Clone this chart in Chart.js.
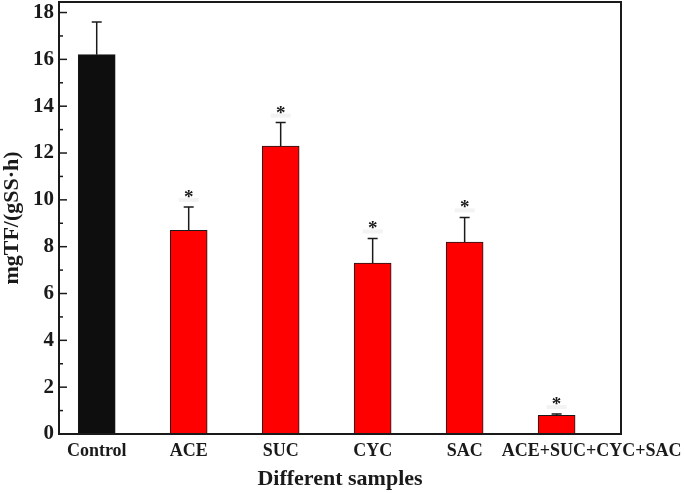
<!DOCTYPE html>
<html>
<head>
<meta charset="utf-8">
<script src="https://cdn.jsdelivr.net/npm/chart.js@4"></script>
<style>
    body { margin: 0; background: #fff; }
</style>
</head>
<body>
<canvas id="activityChart" width="685" height="493"></canvas>
<script>

    const categories = ["Control", "ACE", "SUC", "CYC", "SAC", "ACE+SUC+CYC+SAC"];
    const means = [16.2, 8.7, 12.3, 7.3, 8.2, 0.8];
    const errors = [1.4, 1.0, 1.0, 1.05, 1.05, 0.05];
    const significant = [false, true, true, true, true, true];
    const yTicks = [0, 2, 4, 6, 8, 10, 12, 14, 16, 18];

    const serif = "'Liberation Serif', 'Times New Roman', serif";
    const ink = "#1a1a1a";
    const lastLabelShift = 0.38;

    // frame, inward ticks, error bars and stars
    const decorations = {
        id: "decorations",
        afterDatasetsDraw(chart) {
            const ctx = chart.ctx;
            const xs = chart.scales.x;
            const ys = chart.scales.y;
            ctx.save();
            ctx.strokeStyle = ink;
            ctx.lineWidth = 1.5;
            means.forEach((m, i) => {
                const x = xs.getPixelForValue(i);
                const yTop = ys.getPixelForValue(m);
                const yErr = ys.getPixelForValue(m + errors[i]);
                ctx.beginPath();
                ctx.moveTo(x, yTop);
                ctx.lineTo(x, yErr);
                ctx.moveTo(x - 5, yErr);
                ctx.lineTo(x + 5, yErr);
                ctx.stroke();
                if (significant[i]) {
                    ctx.fillStyle = "#f3f3f3";
                    ctx.fillRect(x - 10, yErr - 9, 20, 4);
                    ctx.fillStyle = ink;
                    ctx.font = "bold 19px " + serif;
                    ctx.textAlign = "center";
                    ctx.textBaseline = "alphabetic";
                    ctx.fillText("*", x, yErr - 4);
                }
            });
            ctx.restore();
        },
        afterDraw(chart) {
            const ctx = chart.ctx;
            const a = chart.chartArea;
            const ys = chart.scales.y;
            ctx.save();
            ctx.strokeStyle = ink;
            ctx.lineWidth = 1.5;
            for (let v = 0; v <= 18; v++) {
                const y = ys.getPixelForValue(v);
                const len = v % 2 === 0 ? 8 : 4;
                ctx.beginPath();
                ctx.moveTo(a.left, y);
                ctx.lineTo(a.left + len, y);
                ctx.stroke();
            }
            ctx.lineWidth = 2;
            ctx.strokeRect(a.left, a.top, a.right - a.left, a.bottom - a.top);
            ctx.restore();
        }
    };

    new Chart(document.getElementById("activityChart"), {
        type: "bar",
        data: {
            datasets: [{
                data: means.map((m, i) => ({ x: i, y: m })),
                backgroundColor: means.map((m, i) => i === 0 ? "#0e0e0e" : "#ff0000"),
                borderColor: ink,
                borderWidth: 1,
                barThickness: 37
            }]
        },
        options: {
            responsive: false,
            animation: false,
            layout: { padding: { top: 2, right: 64, bottom: 0, left: 0 } },
            plugins: {
                legend: { display: false },
                tooltip: { enabled: false }
            },
            scales: {
                x: {
                    type: "linear",
                    offset: false,
                    min: -0.41,
                    max: 5.70,
                    grid: { display: false, drawTicks: false },
                    border: { display: false },
                    afterBuildTicks: (axis) => {
                        axis.ticks = categories.map((c, i) => ({
                            value: i + (i === categories.length - 1 ? lastLabelShift : 0)
                        }));
                    },
                    afterFit: (s) => {
                        s.height = 59;
                        s.paddingLeft = 0;
                        s.paddingRight = 0;
                    },
                    ticks: {
                        autoSkip: false,
                        maxRotation: 0,
                        padding: 7,
                        color: ink,
                        font: { family: serif, size: 18, weight: "bold" },
                        callback: (value, index) => categories[index]
                    },
                    title: {
                        display: true,
                        text: "Different samples",
                        color: ink,
                        padding: { top: 0, bottom: 0 },
                        font: { family: serif, size: 22, weight: "bold", lineHeight: 1.2 }
                    }
                },
                y: {
                    min: 0,
                    max: 18.45,
                    grid: { display: false, drawTicks: false },
                    border: { display: false },
                    afterBuildTicks: (axis) => {
                        axis.ticks = yTicks.map(v => ({ value: v }));
                    },
                    afterFit: (s) => {
                        s.width = 59;
                        s.paddingTop = 0;
                        s.paddingBottom = 0;
                    },
                    ticks: {
                        padding: 5,
                        color: ink,
                        font: { family: serif, size: 21, weight: "bold" }
                    },
                    title: {
                        display: true,
                        text: "mgTF/(gSS\u00b7h)",
                        color: ink,
                        padding: { top: 0, bottom: 0 },
                        font: { family: serif, size: 22, weight: "bold", lineHeight: 1.1 }
                    }
                }
            }
        },
        plugins: [decorations]
    });

</script>
</body>
</html>
